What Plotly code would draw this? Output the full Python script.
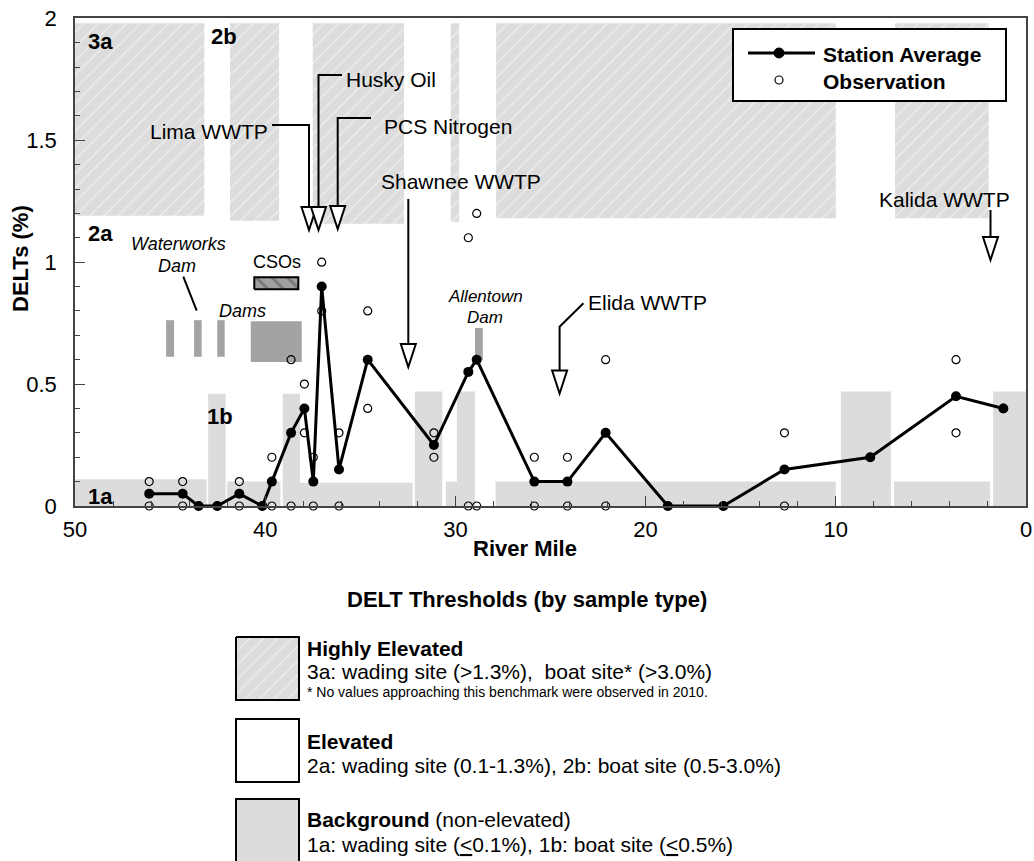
import plotly.graph_objects as go

W, H = 1034, 861
# plot area edges in pixels
PL, PR, PT, PB = 75, 1026, 18.3, 506

FONT = "Liberation Sans, Arial, Helvetica, sans-serif"
BG_GRAY = "#dcdcdc"
DAM_GRAY = "#a3a3a3"

# ---- station data (river mile, DELTs %) ----
river_mile = [46.1, 44.34, 43.5, 42.52, 41.36, 40.15, 39.65, 38.64, 37.94, 37.47,
              37.03, 36.12, 34.61, 31.13, 29.32, 28.88, 25.85, 24.11, 22.1, 18.83,
              15.91, 12.7, 8.19, 3.68, 1.19]
station_avg = [0.05, 0.05, 0.0, 0.0, 0.05, 0.0, 0.1, 0.3, 0.4, 0.1,
               0.9, 0.15, 0.6, 0.25, 0.55, 0.6, 0.1, 0.1, 0.3, 0.0,
               0.0, 0.15, 0.2, 0.45, 0.4]
obs_first = [0.1, 0.1, 0.0, 0.0, 0.1, 0.0, 0.2, 0.6, 0.5, 0.2,
             1.0, 0.3, 0.8, 0.3, 1.1, 1.2, 0.2, 0.2, 0.6, 0.0,
             0.0, 0.3, 0.2, 0.6, 0.4]
obs_second = [0.0, 0.0, None, None, 0.0, None, 0.0, 0.0, 0.3, 0.0,
              0.8, 0.0, 0.4, 0.2, 0.0, 0.0, 0.0, 0.0, 0.0, None,
              None, 0.0, None, 0.3, None]

# ---- DELT threshold zones along the river ----
high_start = [50.0, 41.85, 37.5, 30.25, 27.86, 6.89]
high_end = [43.2, 39.27, 32.7, 29.8, 10.0, 1.96]
high_bottom = [1.19, 1.17, 1.157, 1.165, 1.18, 1.18]
high_top = 1.98

bg_start = [50.0, 43.0, 42.0, 39.08, 38.17, 32.13, 30.5, 29.92, 27.89, 9.73, 6.94, 1.73]
bg_end = [43.08, 42.08, 39.2, 38.17, 32.25, 30.69, 29.2, 28.97, 10.0, 7.1, 1.89, 0.0]
bg_top = [0.11, 0.46, 0.10, 0.46, 0.095, 0.47, 0.10, 0.47, 0.10, 0.47, 0.10, 0.47]

# ---- dams (river mile span, DELT span of the marker bar) ----
dam_start = [45.21, 43.74, 42.52, 40.76, 28.97]
dam_end = [44.79, 43.34, 42.13, 38.08, 28.56]
dam_low = [0.612, 0.612, 0.612, 0.591, 0.598]
dam_high = [0.762, 0.762, 0.762, 0.758, 0.73]


def px(x):
    return x / W


def py(y):
    return 1 - y / H


def mile_of(x):
    return 50 - (x - PL) * 50 / (PR - PL)


def delt_of(y):
    return (PB - y) * 2 / (PB - PT)


fig = go.Figure()

# hatched "highly elevated" zones
hx, hy = [], []
for a, b, lo in zip(high_start, high_end, high_bottom):
    hx += [a, b, b, a, a, None]
    hy += [lo, lo, high_top, high_top, lo, None]
hatch = dict(shape="/", bgcolor=BG_GRAY, fgcolor="white", size=10, solidity=0.15,
             fillmode="overlay")
fig.add_trace(go.Scatter(x=hx, y=hy, mode="lines", fill="toself", fillcolor=BG_GRAY,
                         fillpattern=hatch, line=dict(width=0), hoverinfo="skip",
                         showlegend=False))

# CSO marker box
cx0, cx1, cy0, cy1 = mile_of(254.3), mile_of(298.3), delt_of(289.3), delt_of(277.3)
fig.add_trace(go.Scatter(x=[cx0, cx1, cx1, cx0, cx0], y=[cy0, cy0, cy1, cy1, cy0],
                         mode="lines", fill="toself", fillcolor="#a0a0a0",
                         fillpattern=dict(shape="\\", bgcolor="#a0a0a0", fgcolor="#505050",
                                          size=11, solidity=0.25, fillmode="overlay"),
                         line=dict(color="black", width=2), hoverinfo="skip",
                         showlegend=False))

# observations
obs_x, obs_y = [], []
for m, a, b in zip(river_mile, obs_first, obs_second):
    for v in (a, b):
        if v is not None:
            obs_x.append(m)
            obs_y.append(v)
fig.add_trace(go.Scatter(x=obs_x, y=obs_y, mode="markers", name="Observation",
                         marker=dict(symbol="circle-open", size=8, color="black",
                                     line=dict(width=1.2)),
                         cliponaxis=False, showlegend=False))

# station averages
fig.add_trace(go.Scatter(x=river_mile, y=station_avg, mode="lines+markers",
                         name="Station Average",
                         line=dict(color="black", width=3),
                         marker=dict(size=10, color="black"),
                         cliponaxis=False, showlegend=False))

# hatched swatch for the threshold key (pixel-space axes under the chart)
sx = [236, 299, 299, 236, 236]
sy = [637, 637, 700, 700, 637]
fig.add_trace(go.Scatter(x=sx, y=sy, xaxis="x2", yaxis="y2", mode="lines",
                         fill="toself", fillcolor=BG_GRAY, fillpattern=hatch,
                         line=dict(color="black", width=2), hoverinfo="skip",
                         showlegend=False))

shapes = []
# background zones
for a, b, t in zip(bg_start, bg_end, bg_top):
    shapes.append(dict(type="rect", xref="x", yref="y", x0=a, x1=b, y0=0, y1=t,
                       fillcolor=BG_GRAY, line=dict(width=0), layer="below"))
# dams
for a, b, lo, hi in zip(dam_start, dam_end, dam_low, dam_high):
    shapes.append(dict(type="rect", xref="x", yref="y", x0=a, x1=b, y0=lo, y1=hi,
                       fillcolor=DAM_GRAY, line=dict(width=0), layer="below"))


def polyline(points, width=2):
    d = "M " + " L ".join(f"{px(x):.5f},{py(y):.5f}" for x, y in points)
    return dict(type="path", xref="paper", yref="paper", path=d,
                line=dict(color="black", width=width), layer="above")


def arrowhead(x, tip, half=7.5, height=23):
    d = (f"M {px(x - half):.5f},{py(tip - height):.5f} L {px(x):.5f},{py(tip):.5f} "
         f"L {px(x + half):.5f},{py(tip - height):.5f} Z")
    return dict(type="path", xref="paper", yref="paper", path=d, fillcolor="white",
                line=dict(color="black", width=2), layer="above")


# discharger arrows
arrows = [
    ([(272, 125), (309, 125), (309, 208)], 309, 230),      # Lima WWTP
    ([(342, 75), (318.5, 75), (318.5, 208)], 318.5, 230),  # Husky Oil
    ([(371, 118), (337.7, 118), (337.7, 207)], 337.7, 229),  # PCS Nitrogen
    ([(408.3, 199), (408.3, 345)], 408.3, 367),            # Shawnee WWTP
    ([(583.4, 303.3), (559.6, 326.7), (559.6, 371)], 559.6, 393.5),  # Elida WWTP
    ([(990.5, 210), (990.5, 238)], 990.5, 260),            # Kalida WWTP
]
for pts, ax, tip in arrows:
    shapes.append(polyline(pts))
for pts, ax, tip in arrows:
    shapes.append(arrowhead(ax, tip))

# Waterworks Dam leader
shapes.append(polyline([(183.3, 276.7), (196.7, 310.7)]))

# series key (top right)
shapes.append(dict(type="rect", xref="paper", yref="paper", x0=px(733), x1=px(1006),
                   y0=py(101), y1=py(29), fillcolor="white",
                   line=dict(color="black", width=2), layer="above"))
shapes.append(polyline([(748, 53), (815, 53)], width=3))
shapes.append(dict(type="circle", xref="paper", yref="paper", x0=px(774), x1=px(784),
                   y0=py(58), y1=py(48), fillcolor="black",
                   line=dict(color="black", width=1), layer="above"))
shapes.append(dict(type="circle", xref="paper", yref="paper", x0=px(775), x1=px(783),
                   y0=py(84), y1=py(76), fillcolor="white",
                   line=dict(color="black", width=1.2), layer="above"))

# threshold key swatches
shapes.append(dict(type="rect", xref="paper", yref="paper", x0=px(236), x1=px(299),
                   y0=py(782), y1=py(719), fillcolor="white",
                   line=dict(color="black", width=2), layer="above"))
shapes.append(dict(type="rect", xref="paper", yref="paper", x0=px(236), x1=px(299),
                   y0=py(872), y1=py(799), fillcolor=BG_GRAY,
                   line=dict(color="black", width=2), layer="above"))

annotations = []


def label(x, y, s, size=21, anchor="left", angle=0):
    annotations.append(dict(x=px(x), y=py(y), xref="paper", yref="paper", text=s,
                            showarrow=False, xanchor=anchor, yanchor="middle",
                            textangle=angle,
                            font=dict(family=FONT, size=size, color="black")))


# zone codes
label(100.5, 41, "<b>3a</b>", 22, "center")
label(223.5, 37, "<b>2b</b>", 22, "center")
label(100.5, 233, "<b>2a</b>", 22, "center")
label(219.5, 416, "<b>1b</b>", 22, "center")
label(100.5, 496, "<b>1a</b>", 22, "center")

# discharger labels
label(270, 132, "Lima WWTP", anchor="right")
label(344, 79, "Husky Oil")
label(382, 126, "PCS Nitrogen")
label(379, 181, "Shawnee WWTP")
label(586, 302, "Elida WWTP")
label(877, 200, "Kalida WWTP")
label(276.7, 262, "CSOs", 18, "center")

# dam labels
label(178, 244, "<i>Waterworks</i>", 18, "center")
label(177, 266, "<i>Dam</i>", 18, "center")
label(242, 311, "<i>Dams</i>", 18, "center")
label(485, 296, "<i>Allentown</i>", 17, "center")
label(485, 317, "<i>Dam</i>", 17, "center")

# axis titles
label(524.5, 548, "<b>River Mile</b>", 22, "center")
label(20, 259, "<b>DELTs (%)</b>", 22, "center", -90)

# series key text
label(821, 54, "<b>Station Average</b>")
label(821, 81, "<b>Observation</b>")

# threshold key
label(527, 599, "<b>DELT Thresholds (by sample type)</b>", 22, "center")
label(305, 648, "<b>Highly Elevated</b>")
label(305, 671, "3a: wading site (&gt;1.3%),  boat site* (&gt;3.0%)")
label(305, 692, "* No values approaching this benchmark were observed in 2010.", 14)
label(305, 741, "<b>Elevated</b>")
label(305, 765, "2a: wading site (0.1-1.3%), 2b: boat site (0.5-3.0%)")
label(305, 819, "<b>Background</b> (non-elevated)")
label(305, 844, "1a: wading site (<u>&lt;</u>0.1%), 1b: boat site (<u>&lt;</u>0.5%)")

axis_color = "#444444"
fig.update_layout(
    width=W, height=H,
    autosize=False,
    margin=dict(l=0, r=0, t=0, b=0, pad=0, autoexpand=False),
    paper_bgcolor="white", plot_bgcolor="white",
    font=dict(family=FONT, size=21, color="black"),
    showlegend=False,
    xaxis=dict(domain=[PL / W, PR / W], range=[50, 0], tickvals=[50, 40, 30, 20, 10, 0],
               ticks="inside", ticklen=10, tickwidth=1, tickcolor=axis_color,
               minor=dict(dtick=2, ticks="inside", ticklen=5, tickwidth=1,
                          tickcolor=axis_color),
               showline=True, linecolor=axis_color, linewidth=1.5, mirror=True,
               showgrid=False, zeroline=False, ticklabelstandoff=3, automargin=False,
               tickfont=dict(size=22, color="black")),
    yaxis=dict(domain=[1 - PB / H, 1 - PT / H], range=[0, 2], dtick=0.5,
               ticks="inside", ticklen=10, tickwidth=1, tickcolor=axis_color,
               minor=dict(dtick=0.1, ticks="inside", ticklen=5, tickwidth=1,
                          tickcolor=axis_color),
               showline=True, linecolor=axis_color, linewidth=1.5, mirror=True,
               showgrid=False, zeroline=False, ticklabelstandoff=12, automargin=False,
               tickfont=dict(size=22, color="black")),
    xaxis2=dict(domain=[0, 1], range=[0, W], visible=False, anchor="y2",
                automargin=False),
    yaxis2=dict(domain=[0, 1 - PB / H], range=[H, PB], visible=False, anchor="x2",
                automargin=False),
    shapes=shapes,
    annotations=annotations,
)

# keep the page exactly the size of the figure
page_fit = ("document.body.style.margin='0';"
            "document.body.style.padding='0';"
            "document.body.style.overflow='hidden';")
fig.write_html("out.html", post_script=page_fit)
